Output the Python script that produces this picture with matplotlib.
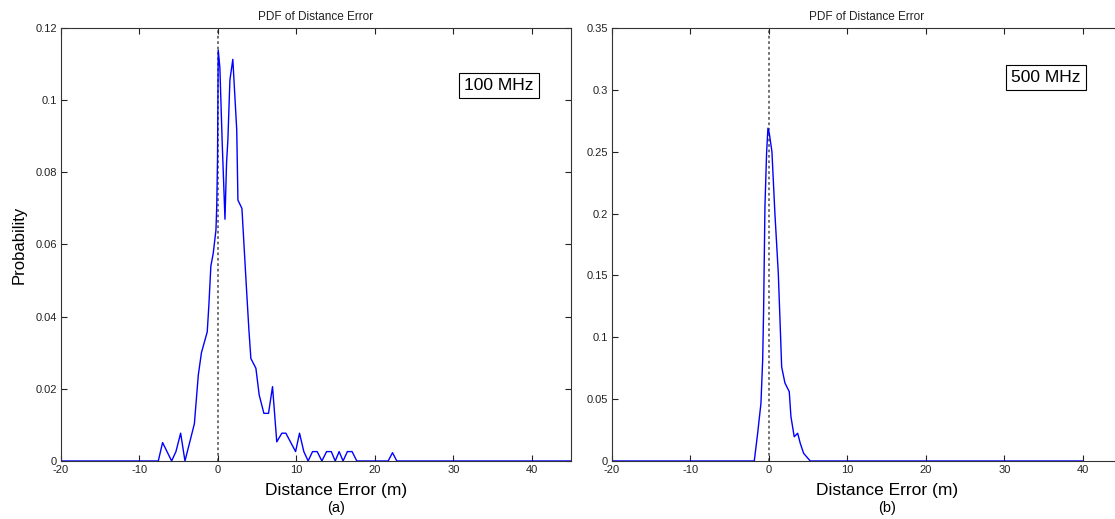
import matplotlib
matplotlib.use('Agg')
import matplotlib.pyplot as plt

plt.rcParams['font.family'] = ['Liberation Sans', 'DejaVu Sans']

# ── data ──────────────────────────────────────────────────────────────────
# (a) 100 MHz
x_100 = [-20, -7.6, -7.05, -5.9, -5.35, -4.75, -4.2, -3.0, -2.5, -2.1, -1.36,
         -1.15, -0.9, -0.6, -0.25, -0.15, -0.05, 0.04, 0.25, 0.55, 0.9, 1.1,
         1.27, 1.53, 1.9, 2.4, 2.55, 3.06, 3.65, 3.95, 4.2, 4.84, 5.26, 5.86,
         6.45, 6.96, 7.5, 8.15, 8.66, 9.9, 10.4, 10.95, 11.5, 12.06, 12.65,
         13.25, 13.85, 14.45, 14.95, 15.45, 15.95, 16.5, 17.1, 17.7, 21.7,
         22.25, 22.8, 45]
y_100 = [0, 0, 0.0051, 0, 0.0026, 0.0077, 0, 0.0103, 0.0238, 0.030, 0.0358,
         0.0433, 0.054, 0.0575, 0.064, 0.0705, 0.0834, 0.1139, 0.109, 0.088,
         0.067, 0.0825, 0.089, 0.1056, 0.1113, 0.0917, 0.0723, 0.070, 0.0474,
         0.0363, 0.0284, 0.0257, 0.0183, 0.0132, 0.0132, 0.0206, 0.0053,
         0.0077, 0.0077, 0.0026, 0.0077, 0.0026, 0, 0.0026, 0.0026, 0, 0.0026,
         0.0026, 0, 0.0026, 0, 0.0026, 0.0026, 0, 0, 0.0023, 0, 0]

# (b) 500 MHz
x_500 = [-20, -1.87, -1.44, -1.02, -0.8, -0.68, -0.51, -0.3, -0.13, 0.04,
         0.38, 0.76, 1.19, 1.44, 1.62, 2.04, 2.59, 2.8, 3.22, 3.66, 3.99,
         4.42, 5.26, 40]
y_500 = [0, 0, 0.0224, 0.0466, 0.0816, 0.122, 0.2055, 0.249, 0.269, 0.265,
         0.25, 0.20, 0.152, 0.1085, 0.076, 0.063, 0.056, 0.036, 0.0196,
         0.0224, 0.0143, 0.0062, 0, 0]

x_ticks = [-20, -10, 0, 10, 20, 30, 40]
y_ticks_100 = [0, 0.02, 0.04, 0.06, 0.08, 0.1, 0.12]
y_ticks_500 = [0, 0.05, 0.1, 0.15, 0.2, 0.25, 0.3, 0.35]
ylim_100 = 0.12
ylim_500 = 0.35
labels_box = ['100 MHz', '500 MHz']
sub_labels = ['(a)', '(b)']

fig = plt.figure(figsize=(11.15, 5.19), dpi=100)
ax_a = fig.add_axes([0.0547, 0.1118, 0.4574, 0.8343])
ax_b = fig.add_axes([0.5489, 0.1118, 0.4574, 0.8343])

panels = [
    (ax_a, x_100, y_100, y_ticks_100, ylim_100, labels_box[0], sub_labels[0], (0.858, 0.867)),
    (ax_b, x_500, y_500, y_ticks_500, ylim_500, labels_box[1], sub_labels[1], (0.851, 0.885)),
]

for ax, xs, ys, yt, ytop, box, sub, boxpos in panels:
    ax.axvline(0, color='#666666', linestyle=(0, (1.5, 1.5)), lw=1.3, zorder=1)
    ax.plot(xs, ys, color='#0000ff', lw=1.0, zorder=2)
    ax.set_xlim(-20, 45)
    ax.set_ylim(0, ytop)
    ax.set_xticks(x_ticks)
    ax.set_yticks(yt)
    ax.set_xticklabels([str(t) for t in x_ticks])
    ax.set_yticklabels(['0' if t == 0 else f'{t:g}' for t in yt])
    ax.tick_params(direction='in', top=True, right=True, length=4, width=0.8,
                   labelsize=8, colors='#222222', pad=3)
    for sp in ax.spines.values():
        sp.set_color('#333333')
        sp.set_linewidth(0.8)
    ax.set_title('PDF of Distance Error', fontsize=8.5, color='#222222', pad=6)
    ax.set_xlabel('Distance Error (m)', fontsize=12.5)
    ax.xaxis.set_label_coords(0.539, -0.05, transform=ax.transAxes)
    ax.xaxis.label.set_verticalalignment('top')
    ax.text(0.539, -0.1085, sub, transform=ax.transAxes, ha='center', va='center', fontsize=10.5)
    ax.text(boxpos[0], boxpos[1], box, transform=ax.transAxes, ha='center', va='center',
            fontsize=12.5, bbox=dict(boxstyle='square,pad=0.3', fc='white', ec='black', lw=0.8))

ax_a.set_ylabel('Probability', fontsize=12, labelpad=6)

plt.savefig('out.png', dpi=100)
plt.close()
